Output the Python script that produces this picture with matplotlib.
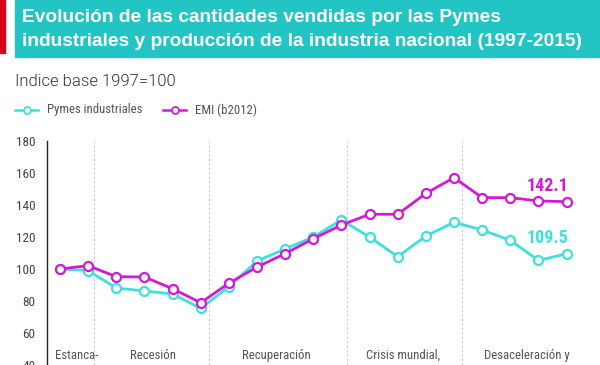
import matplotlib
matplotlib.use("Agg")
import matplotlib.pyplot as plt
from matplotlib.patches import Rectangle

years = list(range(1997, 2016))
pymes = [100, 99.0, 88.1, 86.3, 84.4, 75.4, 88.9, 105.0, 112.5, 120.0, 130.6,
         120.0, 107.7, 120.6, 129.2, 124.4, 117.9, 105.4, 109.5]
emi = [100, 102.1, 95.2, 95.0, 87.7, 78.9, 91.1, 101.2, 109.6, 118.9, 127.5,
       134.2, 134.2, 147.3, 157.1, 144.6, 144.6, 142.5, 142.1]
yticks = [40, 60, 80, 100, 120, 140, 160, 180]
period_bounds = [1998.2, 2002.3, 2007.2, 2011.3]
period_centers = [1997.6, 2000.3, 2004.7, 2009.2, 2013.6]
period_labels = ["Estanca-", "Recesión", "Recuperación", "Crisis mundial,", "Desaceleración y"]
series_names = ["Pymes industriales", "EMI (b2012)"]

CYAN = "#3fe0dc"
MAG = "#d21ad6"
TEAL = "#22c4c4"
COND = ["Roboto Condensed", "DejaVu Sans"]

fig = plt.figure(figsize=(6.0, 3.65), dpi=100)
W, H = 600, 365

def fx(px):
    return px / W

def fy(py):
    return 1 - py / H

# Banner
fig.patches.append(Rectangle((fx(0), fy(53)), fx(5), 53 / H, transform=fig.transFigure,
                             color="#d9001b", zorder=0))
fig.patches.append(Rectangle((fx(15), fy(57)), 1 - fx(15), 57 / H, transform=fig.transFigure,
                             color=TEAL, zorder=0))
fig.text(fx(22), fy(18), "Evolución de las cantidades vendidas por las Pymes",
         color="white", fontsize=13.8, fontweight="bold", family="Liberation Sans",
         va="center", ha="left")
fig.text(fx(22), fy(41), "industriales y producción de la industria nacional (1997-2015)",
         color="white", fontsize=13.8, fontweight="bold", family="Liberation Sans",
         va="center", ha="left")

fig.text(fx(15), fy(81), "Indice base 1997=100", color="#333333", fontsize=12,
         family="Roboto", fontweight=300, va="center", ha="left")

ax = fig.add_axes([fx(47), 0, fx(590) - fx(47), fy(141)])
ax.set_xlim(1996.54, 2015.83)
ax.set_ylim(40, 180)

for b in period_bounds:
    ax.axvline(b, color="#cccccc", lw=0.8, ls=(0, (2, 2)), zorder=1)

ax.plot(years, pymes, color=CYAN, lw=2.0, marker="o", ms=6.5, mfc="white",
        mec=CYAN, mew=1.6, zorder=3, label=series_names[0])
ax.plot(years, emi, color=MAG, lw=2.0, marker="o", ms=6.5, mfc="white",
        mec=MAG, mew=1.6, zorder=4, label=series_names[1])

ax.text(years[-1] + 0.07, emi[-1] + 9.8, f"{emi[-1]:.1f}", color=MAG, fontsize=13,
        fontweight="bold", family=COND, ha="right", va="center")
ax.text(years[-1] + 0.07, pymes[-1] + 9.7, f"{pymes[-1]:.1f}", color=CYAN, fontsize=13,
        fontweight="bold", family=COND, ha="right", va="center")

for c, lab in zip(period_centers, period_labels):
    ax.text(c, 46.2, lab, color="#555555", fontsize=9.2, family=COND,
            ha="center", va="center", clip_on=False)

ax.set_yticks(yticks)
ax.set_yticklabels([str(v) for v in yticks], family=COND, fontsize=9.5, color="#444444")
ax.tick_params(axis="y", length=0, pad=8.5)
ax.set_xticks([])
for s in ["top", "right", "bottom"]:
    ax.spines[s].set_visible(False)
ax.spines["left"].set_color("#222222")
ax.spines["left"].set_linewidth(1.0)

# Legend
lax = fig.add_axes([0, fy(120), 1, 20 / H])
lax.set_xlim(0, W)
lax.set_ylim(0, 20)
lax.axis("off")
for x0, col, name in [(15, CYAN, series_names[0]), (163, MAG, series_names[1])]:
    lax.plot([x0, x0 + 23], [10, 10], color=col, lw=1.8)
    lax.plot([x0 + 11.5], [10], marker="o", ms=5, mfc="white", mec=col, mew=1.3)
    lax.text(x0 + 32, 10, name, color="#555555", fontsize=9.2, family=COND,
             va="center", ha="left")

fig.savefig("out.png", dpi=100)
